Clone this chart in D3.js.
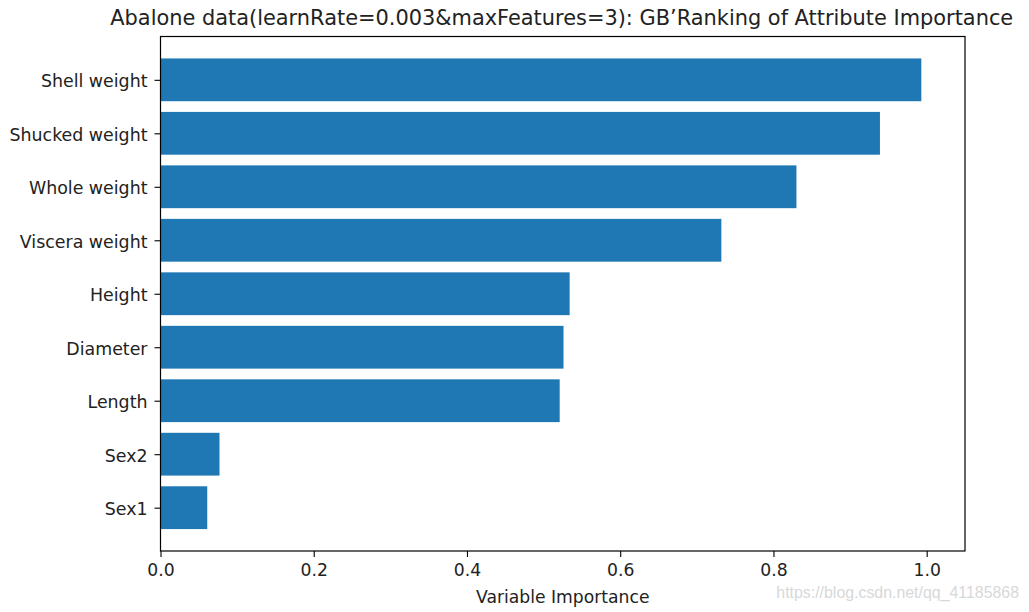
<!DOCTYPE html>
<html>
<head>
<meta charset="utf-8">
<script src="https://cdn.jsdelivr.net/npm/d3@7"></script>
<style>
  html, body { margin: 0; padding: 0; background: #fff; }
  svg { display: block; font-family: "DejaVu Sans", sans-serif; }
</style>
</head>
<body>
<svg id="chart" width="1029" height="612"></svg>
<script>
// Data (bottom to top, as drawn by barh)
const categories = ["Sex1", "Sex2", "Length", "Diameter", "Height", "Viscera weight", "Whole weight", "Shucked weight", "Shell weight"];
const importance = [0.061, 0.077, 0.521, 0.526, 0.534, 0.732, 0.830, 0.939, 0.993];
const xTicks = [0.0, 0.2, 0.4, 0.6, 0.8, 1.0];
const titleText = "Abalone data(learnRate=0.003&maxFeatures=3): GB\u2019Ranking of Attribute Importance";
const xLabel = "Variable Importance";
const watermark = "https://blog.csdn.net/qq_41185868";

const svg = d3.select("#chart");
const mLeft = 160.5, mRight = 965, mTop = 36.5, mBottom = 551;

const x = d3.scaleLinear().domain([0, 1.05]).range([mLeft, mRight]);
const y = d3.scaleLinear().domain([-0.81, categories.length - 1 + 0.81]).range([mBottom, mTop]);
const barH = 0.8;

// bars
svg.append("g").selectAll("rect")
  .data(importance)
  .join("rect")
  .attr("x", x(0))
  .attr("y", (d, i) => y(i + barH / 2))
  .attr("width", d => x(d) - x(0))
  .attr("height", y(0) - y(barH))
  .attr("fill", "#1f77b4");

// frame
svg.append("rect")
  .attr("x", mLeft).attr("y", mTop)
  .attr("width", mRight - mLeft).attr("height", mBottom - mTop)
  .attr("fill", "none").attr("stroke", "#000").attr("stroke-width", 1.2);

// x axis
const xAxis = d3.axisBottom(x).tickValues(xTicks).tickFormat(d3.format(".1f")).tickSize(6).tickPadding(7);
const gx = svg.append("g").attr("transform", `translate(0,${mBottom})`).call(xAxis);
gx.select(".domain").remove();
gx.selectAll(".tick line").attr("stroke", "#000").attr("stroke-width", 1.1);
gx.selectAll(".tick text").attr("fill", "#222").style("font-size", "17.2px").style("font-family", "DejaVu Sans");

// y axis
const yAxis = d3.axisLeft(y).tickValues(d3.range(categories.length)).tickFormat(i => categories[i]).tickSize(6).tickPadding(7);
const gy = svg.append("g").attr("transform", `translate(${mLeft},0)`).call(yAxis);
gy.select(".domain").remove();
gy.selectAll(".tick line").attr("stroke", "#000").attr("stroke-width", 1.1);
gy.selectAll(".tick text").attr("fill", "#222").attr("dy", "0.4em").style("font-size", "17.4px").style("font-family", "DejaVu Sans");

// title
svg.append("text")
  .attr("x", (mLeft + mRight) / 2 - 1).attr("y", 25)
  .attr("text-anchor", "middle")
  .attr("fill", "#222")
  .style("font-size", "20.9px")
  .text(titleText);

// x label
svg.append("text")
  .attr("x", (mLeft + mRight) / 2).attr("y", 603)
  .attr("text-anchor", "middle")
  .attr("fill", "#222")
  .style("font-size", "17.2px")
  .text(xLabel);

// watermark
svg.append("text")
  .attr("x", 1019).attr("y", 598)
  .attr("text-anchor", "end")
  .attr("fill", "#d8d8d8")
  .style("font-size", "15.9px")
  .style("font-family", "Liberation Sans, Arial, sans-serif")
  .text(watermark);
</script>
</body>
</html>
